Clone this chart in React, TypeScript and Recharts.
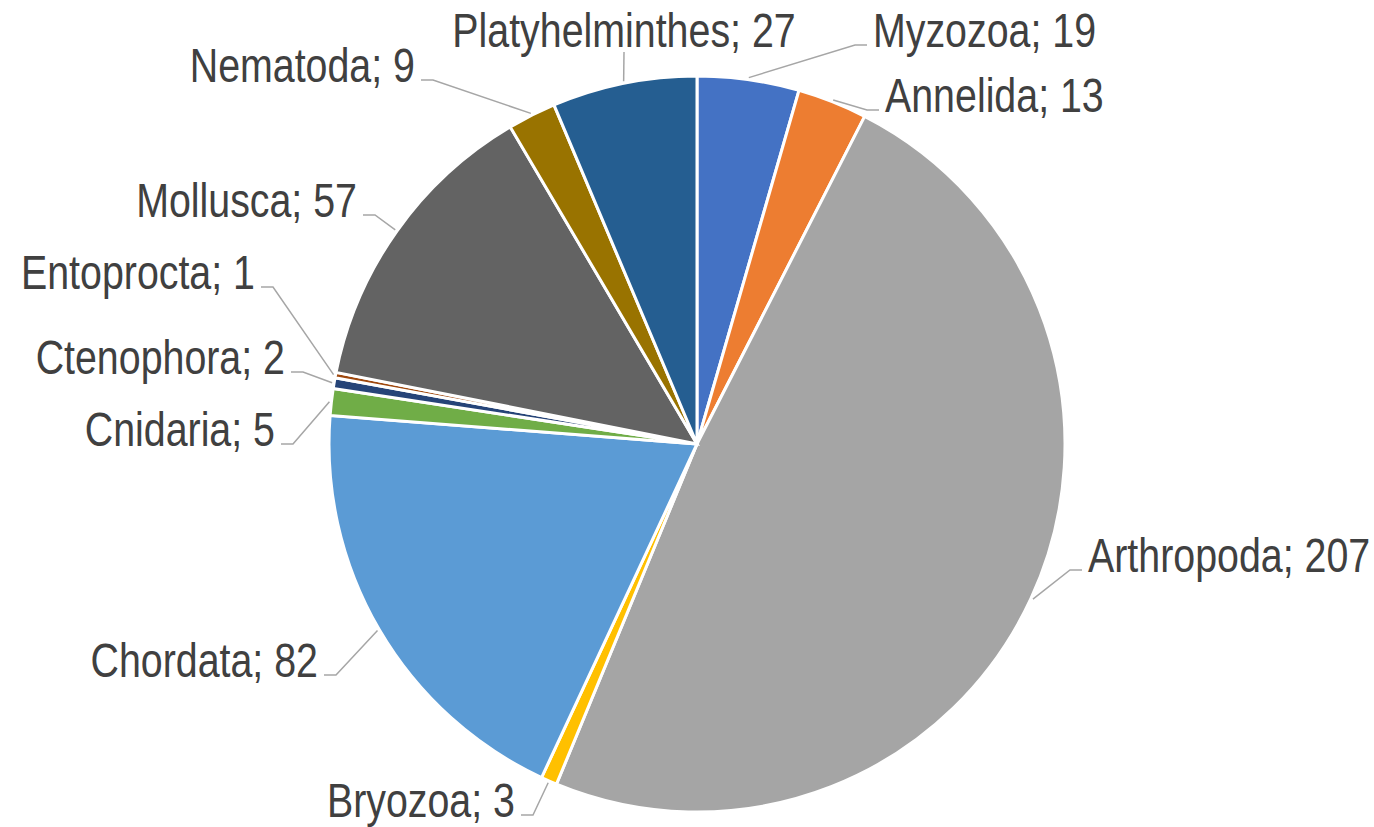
import { PieChart, Pie, Cell } from "recharts"

const phyla = [
  "Myzozoa",
  "Annelida",
  "Arthropoda",
  "Bryozoa",
  "Chordata",
  "Cnidaria",
  "Ctenophora",
  "Entoprocta",
  "Mollusca",
  "Nematoda",
  "Platyhelminthes",
]
const counts = [19, 13, 207, 3, 82, 5, 2, 1, 57, 9, 27]
const COLORS = [
  "#4472C4",
  "#ED7D31",
  "#A5A5A5",
  "#FFC000",
  "#5B9BD5",
  "#70AD47",
  "#264478",
  "#9E480E",
  "#636363",
  "#997300",
  "#255E91",
]

const data = phyla.map((name, i) => ({ name, value: counts[i] }))

// bend point of each leader line, relative to the pie centre, and which side the text sits on
const labelBends: [number, number, string][] = [
  [158, -399, "right"],
  [170, -334, "right"],
  [373, 126, "right"],
  [-164, 371, "left"],
  [-361, 231, "left"],
  [-404, 0, "left"],
  [-394, -72, "left"],
  [-424, -157, "left"],
  [-322, -229, "left"],
  [-264, -364, "left"],
  [-73, -392, "top"],
]

const RAD = Math.PI / 180
// no narrow font installed: squeeze Liberation Sans horizontally to Arial Narrow widths
const FONT = "'Liberation Sans', Arial, sans-serif"
const SQUEEZE = 0.82

function Label({ x, y, anchor, text }: { x: number; y: number; anchor: string; text: string }) {
  return (
    <text
      transform={`translate(${x},${y}) scale(${SQUEEZE},1)`}
      x={0}
      y={0}
      textAnchor={anchor}
      fill="#404040"
      fontSize={48}
      fontFamily={FONT}
    >
      {text}
    </text>
  )
}

function renderLabel(props: any) {
  const { cx, cy, midAngle, outerRadius, index, name, value } = props
  const sx = cx + (outerRadius + 2) * Math.cos(-midAngle * RAD)
  const sy = cy + (outerRadius + 2) * Math.sin(-midAngle * RAD)
  const [dx, dy, side] = labelBends[index]
  const bx = cx + dx
  const by = cy + dy
  const text = `${name}; ${value}`
  if (side === "top") {
    return (
      <g key={`lbl-${index}`}>
        <polyline points={`${sx},${sy} ${bx},${by}`} fill="none" stroke="#A6A6A6" strokeWidth={1.5} />
        <Label x={bx} y={by - 5} anchor="middle" text={text} />
      </g>
    )
  }
  const dir = side === "right" ? 1 : -1
  return (
    <g key={`lbl-${index}`}>
      <polyline
        points={`${sx},${sy} ${bx},${by} ${bx + dir * 12},${by}`}
        fill="none"
        stroke="#A6A6A6"
        strokeWidth={1.5}
      />
      <Label x={bx + dir * 18} y={by + 2} anchor={side === "right" ? "start" : "end"} text={text} />
    </g>
  )
}

export default function App() {
  return (
    <div style={{ position: "absolute", left: 0, top: 0, width: 1374, height: 827, background: "#fff" }}>
      <PieChart width={1374} height={827} margin={{ top: 0, right: 0, bottom: 0, left: 0 }}>
        <Pie
          data={data}
          dataKey="value"
          nameKey="name"
          cx={697}
          cy={444}
          outerRadius={368}
          startAngle={90}
          endAngle={-270}
          stroke="#FFFFFF"
          strokeWidth={3}
          label={renderLabel}
          labelLine={false}
          isAnimationActive={false}
        >
          {data.map((entry, index) => (
            <Cell key={`cell-${index}`} fill={COLORS[index % COLORS.length]} />
          ))}
        </Pie>
      </PieChart>
    </div>
  )
}
